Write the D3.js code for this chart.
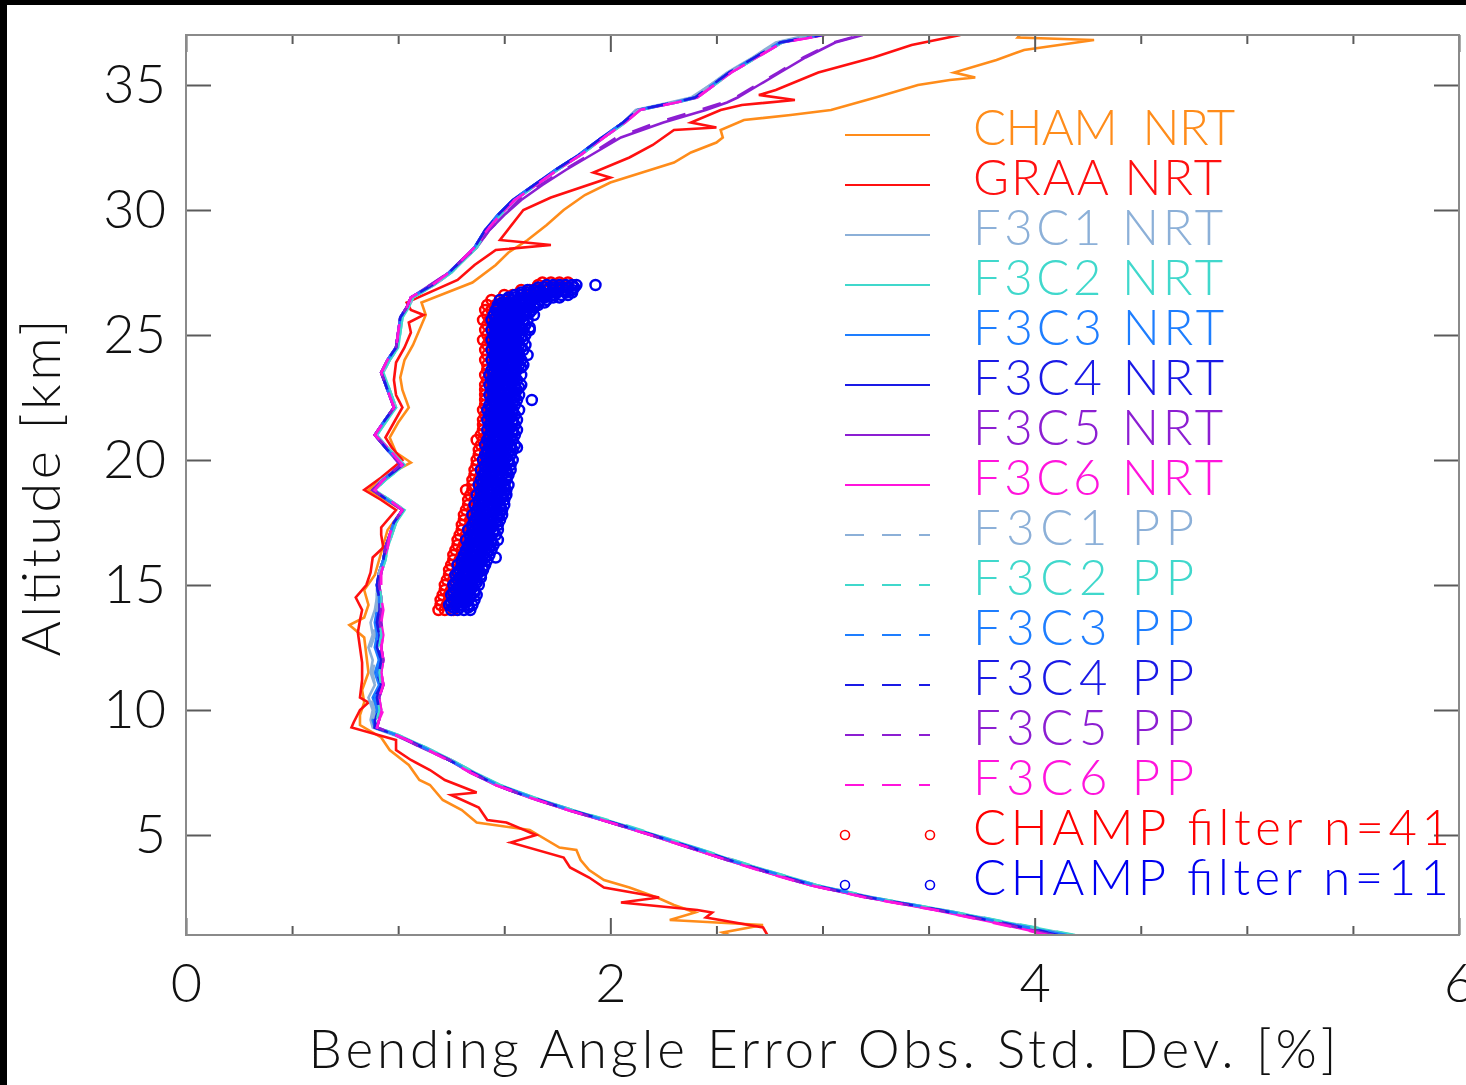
<!DOCTYPE html>
<html>
<head>
<meta charset="utf-8">
<script src="https://cdn.jsdelivr.net/npm/d3@7"></script>
<style>
  html, body { margin: 0; padding: 0; background: #fff; }
  svg { display: block; }
  text { font-family: Lato, "Open Sans", "DejaVu Sans", sans-serif; font-weight: 300; }
</style>
</head>
<body>
<svg id="chart" width="1466" height="1085"></svg>
<script>
// ---------- axis ticks ----------
const xMajorTicks = [0, 2, 4, 6];
const xMinorTicks = [0.5, 1, 1.5, 2.5, 3, 3.5, 4.5, 5, 5.5];
const yTicks = [5, 10, 15, 20, 25, 30, 35];

// ---------- CHAMP / GRACE-A near-real-time profiles (altitude km, std dev %) ----------
const chamAlt = [1.0,1.1,1.4,1.6,1.9,2.2,2.5,2.9,3.2,3.6,4.0,4.4,4.5,5.2,5.5,6.0,6.4,7.0,7.2,7.8,
  8.4,8.9,9.4,9.8,10.3,10.8,11.5,12.2,12.9,13.4,13.7,14.2,14.8,15.4,16.0,16.6,17.2,18.0,18.4,18.8,
  19.4,19.9,20.3,20.9,21.5,22.1,22.8,23.3,24.0,24.6,25.2,25.8,26.3,27.1,27.8,28.3,28.8,29.4,30.0,30.6,
  31.1,31.5,31.9,32.3,32.7,32.9,33.2,33.6,33.8,34.0,34.5,35.0,35.2,35.3,35.5,36.0,36.4,36.8,36.9,37.0];
const chamNrt = [2.56,2.53,2.72,2.28,2.40,2.30,2.22,2.09,1.97,1.90,1.86,1.84,1.76,1.62,1.37,1.30,1.21,1.15,1.10,1.05,
  0.96,0.92,0.82,0.82,0.84,0.83,0.86,0.85,0.84,0.77,0.84,0.86,0.84,0.89,0.91,0.93,0.95,1.02,0.94,0.86,
  0.95,1.06,0.99,0.96,1.00,1.05,1.02,1.01,1.03,1.07,1.10,1.13,1.11,1.35,1.46,1.52,1.61,1.70,1.78,1.88,
  2.00,2.15,2.30,2.38,2.50,2.53,2.52,2.63,2.85,3.04,3.25,3.45,3.60,3.72,3.62,3.82,3.95,4.28,3.92,3.93];

const graaAlt = [1.0,1.3,1.7,1.9,2.0,2.3,2.5,2.6,2.9,3.3,3.7,4.1,4.7,5.0,5.5,5.6,6.1,6.6,6.7,7.2,
  7.6,8.0,8.4,8.8,9.3,9.5,10.0,10.3,10.5,11.2,11.9,12.5,13.1,13.6,14.0,14.5,15.0,15.5,16.1,16.5,
  17.0,17.3,18.0,18.4,18.8,19.3,20.0,20.5,20.9,21.5,22.1,22.6,23.2,23.9,24.5,25.1,25.5,25.8,26.0,26.3,
  27.2,27.8,28.4,28.6,28.8,30.0,30.5,31.3,31.5,32.1,32.6,33.2,33.3,33.5,34.0,34.2,34.4,34.6,34.8,35.5,
  36.1,36.6,37.0];
const graaNrt = [2.74,2.72,2.45,2.48,2.41,2.05,2.23,2.17,1.97,1.90,1.81,1.78,1.53,1.65,1.51,1.42,1.38,1.25,1.37,1.22,
  1.15,1.06,0.99,0.99,0.78,0.79,0.82,0.86,0.82,0.83,0.83,0.82,0.81,0.82,0.83,0.80,0.85,0.87,0.88,0.93,
  0.92,0.92,0.99,0.92,0.84,0.92,1.02,0.97,0.94,0.98,1.02,0.99,0.98,0.99,1.03,1.06,1.05,1.12,1.06,1.04,
  1.28,1.36,1.46,1.72,1.48,1.59,1.72,2.00,1.92,2.09,2.20,2.30,2.50,2.38,2.52,2.62,2.87,2.70,2.78,2.98,
  3.24,3.42,3.65];

// ---------- FORMOSAT-3/COSMIC profiles on a shared altitude grid ----------
const f3cAlt = [1.0,1.5,2.0,2.5,3.0,3.5,4.0,4.5,5.0,5.5,6.0,6.5,7.0,7.5,8.0,8.5,9.0,9.3,
  9.6,10.0,10.5,11.0,11.5,12.0,12.5,13.0,13.5,14.0,14.5,15.0,15.5,16.0,16.5,17.0,17.5,18.0,
  18.4,18.8,19.2,19.8,20.4,21.0,21.5,22.1,22.8,23.5,24.0,24.5,25.1,25.7,26.1,26.5,27.0,
  27.5,28.0,28.5,29.2,29.8,30.4,31.0,31.6,32.2,32.9,33.5,34.0,34.3,34.5,35.0,35.5,36.1,36.7,37.0];

const f3c1Nrt = [4.16,3.86,3.56,3.24,2.96,2.76,2.57,2.38,2.21,2.01,1.82,1.63,1.47,1.35,1.25,1.12,0.98,0.88,
  0.87,0.88,0.86,0.89,0.87,0.88,0.86,0.88,0.87,0.89,0.90,0.90,0.91,0.93,0.95,0.96,0.99,1.02,
  0.96,0.88,0.92,1.02,0.96,0.89,0.93,0.99,0.95,0.92,0.96,0.99,1.00,1.02,1.04,1.07,1.17,
  1.25,1.31,1.37,1.42,1.48,1.55,1.64,1.75,1.86,1.97,2.06,2.12,2.28,2.38,2.47,2.55,2.67,2.78,2.93];
const f3c2Nrt = [4.18,3.87,3.57,3.23,2.97,2.77,2.57,2.40,2.21,2.02,1.82,1.64,1.48,1.36,1.25,1.13,1.00,0.90,
  0.89,0.91,0.90,0.92,0.91,0.92,0.90,0.91,0.91,0.92,0.92,0.91,0.92,0.94,0.95,0.97,0.99,1.03,
  0.96,0.89,0.94,1.03,0.96,0.90,0.94,0.99,0.96,0.93,0.96,1.00,1.01,1.02,1.05,1.07,1.17,
  1.25,1.31,1.37,1.42,1.48,1.55,1.65,1.75,1.86,1.97,2.07,2.14,2.31,2.41,2.49,2.57,2.69,2.81,2.98];
const f3c3Nrt = [4.14,3.85,3.55,3.22,2.96,2.75,2.56,2.39,2.20,2.01,1.81,1.63,1.47,1.35,1.24,1.12,0.99,0.89,
  0.88,0.90,0.88,0.91,0.89,0.91,0.89,0.90,0.89,0.90,0.91,0.90,0.91,0.93,0.94,0.96,0.98,1.02,
  0.95,0.88,0.93,1.02,0.95,0.89,0.93,0.98,0.95,0.92,0.95,0.99,1.00,1.01,1.04,1.06,1.16,
  1.24,1.30,1.36,1.41,1.47,1.54,1.64,1.74,1.85,1.96,2.06,2.13,2.30,2.40,2.48,2.56,2.68,2.80,2.99];
const f3c4Nrt = [4.12,3.84,3.55,3.22,2.95,2.75,2.56,2.38,2.20,2.00,1.81,1.63,1.47,1.35,1.24,1.12,0.99,0.89,
  0.89,0.91,0.89,0.92,0.90,0.92,0.90,0.91,0.90,0.91,0.91,0.90,0.91,0.93,0.94,0.96,0.98,1.02,
  0.95,0.88,0.93,1.02,0.95,0.89,0.93,0.98,0.95,0.92,0.95,0.99,1.00,1.01,1.04,1.06,1.16,
  1.24,1.30,1.36,1.41,1.47,1.54,1.64,1.74,1.85,1.96,2.06,2.13,2.30,2.40,2.48,2.56,2.68,2.80,3.00];
const f3c5Nrt = [4.10,3.83,3.54,3.21,2.94,2.74,2.55,2.37,2.19,2.00,1.80,1.62,1.46,1.34,1.24,1.11,0.99,0.90,
  0.91,0.92,0.91,0.93,0.92,0.93,0.92,0.92,0.91,0.92,0.92,0.91,0.92,0.93,0.94,0.96,0.98,1.02,
  0.95,0.88,0.93,1.01,0.95,0.89,0.93,0.98,0.95,0.92,0.95,0.99,1.00,1.01,1.04,1.06,1.15,
  1.24,1.30,1.37,1.43,1.50,1.58,1.68,1.79,1.91,2.05,2.25,2.45,2.55,2.60,2.70,2.80,2.92,3.06,3.19];
const f3c6Nrt = [4.07,3.81,3.53,3.21,2.94,2.74,2.55,2.37,2.19,2.00,1.80,1.62,1.46,1.35,1.24,1.12,0.99,0.90,
  0.91,0.92,0.91,0.93,0.92,0.93,0.92,0.93,0.92,0.92,0.92,0.91,0.92,0.93,0.95,0.96,0.98,1.02,
  0.96,0.88,0.93,1.02,0.96,0.89,0.93,0.98,0.95,0.92,0.95,0.99,1.00,1.01,1.04,1.06,1.16,
  1.24,1.30,1.36,1.42,1.48,1.55,1.65,1.75,1.86,1.97,2.07,2.14,2.31,2.41,2.49,2.57,2.69,2.81,3.01];

const f3c1Pp = [4.17,3.87,3.57,3.23,2.97,2.76,2.58,2.39,2.21,2.02,1.82,1.63,1.47,1.36,1.25,1.13,0.99,0.88,
  0.88,0.89,0.87,0.89,0.88,0.89,0.87,0.89,0.88,0.90,0.90,0.90,0.91,0.93,0.95,0.97,0.99,1.03,
  0.96,0.89,0.93,1.03,0.96,0.90,0.93,0.99,0.96,0.93,0.96,1.00,1.00,1.02,1.05,1.07,1.17,
  1.25,1.31,1.37,1.42,1.48,1.55,1.65,1.75,1.86,1.97,2.06,2.13,2.29,2.39,2.47,2.56,2.68,2.79,2.95];
const f3c2Pp = [4.19,3.88,3.57,3.24,2.97,2.77,2.58,2.40,2.22,2.03,1.82,1.64,1.48,1.36,1.25,1.13,1.00,0.90,
  0.90,0.91,0.90,0.92,0.91,0.92,0.91,0.92,0.91,0.92,0.92,0.91,0.92,0.94,0.95,0.97,0.99,1.03,
  0.96,0.89,0.94,1.03,0.96,0.90,0.94,0.99,0.96,0.93,0.96,1.00,1.01,1.02,1.05,1.07,1.17,
  1.25,1.31,1.37,1.42,1.48,1.55,1.65,1.75,1.86,1.97,2.07,2.14,2.31,2.41,2.49,2.57,2.69,2.81,2.98];
const f3c3Pp = [4.15,3.85,3.56,3.23,2.96,2.76,2.56,2.39,2.20,2.01,1.81,1.63,1.47,1.35,1.24,1.12,0.99,0.89,
  0.89,0.90,0.89,0.91,0.90,0.91,0.90,0.90,0.90,0.91,0.91,0.90,0.91,0.93,0.94,0.96,0.98,1.02,
  0.95,0.88,0.93,1.02,0.95,0.89,0.93,0.98,0.95,0.92,0.95,0.99,1.00,1.01,1.04,1.06,1.16,
  1.24,1.30,1.36,1.41,1.47,1.54,1.64,1.74,1.85,1.96,2.06,2.13,2.30,2.40,2.48,2.56,2.68,2.80,2.99];
const f3c4Pp = [4.11,3.83,3.55,3.22,2.95,2.75,2.56,2.38,2.20,2.01,1.81,1.62,1.46,1.35,1.24,1.12,0.99,0.89,
  0.90,0.91,0.90,0.92,0.91,0.92,0.91,0.91,0.90,0.91,0.91,0.90,0.91,0.93,0.94,0.96,0.98,1.02,
  0.95,0.88,0.93,1.02,0.95,0.89,0.93,0.98,0.95,0.92,0.95,0.99,1.00,1.01,1.04,1.06,1.16,
  1.24,1.30,1.36,1.41,1.47,1.54,1.64,1.74,1.85,1.96,2.06,2.13,2.30,2.40,2.48,2.56,2.68,2.80,3.00];
const f3c5Pp = [4.09,3.82,3.54,3.21,2.94,2.74,2.55,2.37,2.19,2.00,1.80,1.62,1.46,1.34,1.24,1.11,0.99,0.90,
  0.91,0.92,0.91,0.93,0.92,0.93,0.92,0.93,0.92,0.92,0.92,0.91,0.92,0.93,0.94,0.96,0.98,1.02,
  0.95,0.88,0.93,1.01,0.95,0.89,0.93,0.98,0.95,0.92,0.95,0.99,1.00,1.01,1.04,1.06,1.15,
  1.24,1.30,1.37,1.43,1.50,1.57,1.67,1.78,1.90,2.03,2.22,2.42,2.53,2.59,2.69,2.79,2.91,3.05,3.18];
const f3c6Pp = [4.06,3.80,3.53,3.20,2.94,2.73,2.55,2.37,2.19,2.00,1.80,1.62,1.46,1.34,1.23,1.12,0.99,0.90,
  0.91,0.93,0.91,0.93,0.92,0.93,0.92,0.93,0.92,0.93,0.92,0.92,0.92,0.94,0.95,0.96,0.98,1.02,
  0.96,0.89,0.93,1.02,0.96,0.89,0.93,0.98,0.95,0.92,0.95,0.99,1.00,1.01,1.04,1.06,1.16,
  1.24,1.30,1.36,1.42,1.48,1.55,1.65,1.75,1.86,1.97,2.07,2.14,2.31,2.41,2.49,2.57,2.69,2.81,3.01];

// ---------- CHAMP filtered samples: [altitude, std dev values ...] ----------
const champFilter41 = [
  [14.0,1.19,1.22,1.26],[14.2,1.20,1.23],[14.4,1.20,1.24,1.27],[14.6,1.21,1.24],[14.8,1.22,1.25,1.28],
  [15.0,1.22,1.26],[15.2,1.23,1.26,1.29],[15.4,1.24,1.27],[15.6,1.24,1.28,1.31],[15.8,1.25,1.28],
  [16.0,1.26,1.29,1.32],[16.2,1.26,1.30],[16.4,1.27,1.30,1.33],[16.6,1.28,1.31],[16.8,1.28,1.32,1.35],
  [17.0,1.29,1.32],[17.2,1.30,1.33,1.36],[17.4,1.30,1.34],[17.6,1.31,1.34,1.37],[17.8,1.31,1.35],
  [18.0,1.32,1.35,1.38],[18.2,1.33,1.36],[18.4,1.33,1.36,1.39],[18.6,1.34,1.37],[18.8,1.32,1.35,1.38],
  [19.0,1.35,1.38],[19.2,1.35,1.38,1.41],[19.4,1.36,1.39],[19.6,1.36,1.39,1.42],[19.8,1.37,1.40],
  [20.0,1.37,1.40,1.43],[20.2,1.38,1.41],[20.4,1.38,1.41,1.44],[20.6,1.39,1.42],[20.8,1.37,1.40,1.43],
  [21.0,1.39,1.42],[21.2,1.40,1.43,1.46],[21.4,1.40,1.43],[21.6,1.40,1.43,1.46],[21.8,1.41,1.44],
  [22.0,1.40,1.43,1.46],[22.2,1.41,1.44],[22.4,1.41,1.44,1.47],[22.6,1.41,1.44],[22.8,1.41,1.44,1.47],
  [23.0,1.41,1.44],[23.2,1.42,1.45,1.48],[23.4,1.41,1.44],[23.6,1.42,1.45,1.48],[23.8,1.42,1.45],
  [24.0,1.41,1.44,1.47],[24.2,1.42,1.45],[24.4,1.41,1.44,1.47],[24.6,1.42,1.45],[24.8,1.40,1.43,1.46],
  [25.0,1.42,1.45],[25.2,1.41,1.44,1.47],[25.4,1.42,1.45],[25.6,1.40,1.43,1.46],[25.8,1.42,1.45],
  [26.0,1.41,1.44,1.47],[26.2,1.42,1.46,1.50],[26.4,1.44,1.48,1.53,1.58],
  [26.6,1.50,1.54,1.58,1.62,1.66,1.70],[26.8,1.58,1.62,1.66,1.70,1.74,1.78],
  [27.0,1.66,1.70,1.74,1.78,1.82],[27.1,1.68,1.72,1.76,1.80]
];
const champFilter11 = [
  [14.0,1.25,1.28,1.31,1.34],[14.1,1.26,1.29,1.33],[14.2,1.24,1.27,1.30,1.33,1.35],[14.3,1.25,1.28,1.32],
  [14.4,1.26,1.29,1.32,1.36],[14.5,1.27,1.30,1.34],[14.6,1.25,1.28,1.31,1.34,1.37],[14.7,1.26,1.29,1.33,1.36],
  [14.8,1.27,1.30,1.33,1.36],[14.9,1.28,1.31,1.35],[15.0,1.26,1.29,1.32,1.35,1.38],[15.1,1.27,1.30,1.34,1.37],
  [15.2,1.28,1.31,1.34,1.37],[15.3,1.29,1.32,1.36,1.39],[15.4,1.27,1.30,1.33,1.36,1.39],[15.5,1.28,1.31,1.35,1.38],
  [15.6,1.29,1.32,1.35,1.38,1.40],[15.7,1.30,1.33,1.37,1.40],[15.8,1.28,1.31,1.34,1.37,1.41],[15.9,1.30,1.33,1.36,1.39],
  [16.0,1.30,1.33,1.36,1.39,1.42],[16.1,1.31,1.35,1.38,1.41,1.46],[16.2,1.31,1.34,1.37,1.40,1.43],[16.3,1.32,1.36,1.39,1.42],
  [16.4,1.32,1.35,1.38,1.41,1.44],[16.5,1.33,1.37,1.40,1.43],[16.6,1.33,1.36,1.39,1.42,1.45],[16.7,1.34,1.38,1.41,1.44],
  [16.8,1.32,1.35,1.38,1.41,1.44,1.47],[16.9,1.34,1.37,1.40,1.43],[17.0,1.34,1.37,1.40,1.43,1.46],[17.1,1.35,1.39,1.42,1.45],
  [17.2,1.33,1.36,1.39,1.42,1.45,1.47],[17.3,1.35,1.38,1.41,1.44],[17.4,1.35,1.38,1.41,1.44,1.47],[17.5,1.36,1.40,1.43,1.46],
  [17.6,1.36,1.39,1.42,1.45,1.48],[17.7,1.37,1.40,1.44,1.47],[17.8,1.35,1.38,1.41,1.44,1.47,1.49],[17.9,1.37,1.41,1.45,1.48],
  [18.0,1.37,1.40,1.43,1.46,1.49],[18.1,1.38,1.42,1.45,1.48],[18.2,1.36,1.39,1.42,1.45,1.48,1.50],[18.3,1.38,1.41,1.44,1.47],
  [18.4,1.38,1.41,1.44,1.47,1.50],[18.5,1.39,1.42,1.46,1.49],[18.6,1.37,1.40,1.43,1.46,1.49,1.51],[18.7,1.39,1.43,1.47,1.50],
  [18.8,1.39,1.42,1.45,1.48,1.51],[18.9,1.40,1.44,1.47,1.50],[19.0,1.38,1.41,1.44,1.47,1.50,1.52],[19.1,1.40,1.43,1.46,1.49],
  [19.2,1.39,1.42,1.45,1.48,1.51],[19.3,1.41,1.44,1.47,1.51],[19.4,1.40,1.43,1.46,1.49,1.52],[19.5,1.41,1.45,1.48,1.51],
  [19.6,1.39,1.42,1.45,1.48,1.51,1.53],[19.7,1.41,1.44,1.47,1.50],[19.8,1.41,1.44,1.47,1.50,1.53],[19.9,1.42,1.46,1.49,1.52],
  [20.0,1.40,1.43,1.46,1.49,1.52,1.54],[20.1,1.42,1.45,1.48,1.51],[20.2,1.41,1.44,1.47,1.50,1.53],[20.3,1.42,1.46,1.49,1.52],
  [20.4,1.42,1.45,1.48,1.51,1.54],[20.5,1.43,1.47,1.50,1.53,1.56],[20.6,1.41,1.44,1.47,1.50,1.53,1.55],[20.7,1.43,1.46,1.49,1.52],
  [20.8,1.42,1.45,1.48,1.51,1.54],[20.9,1.43,1.47,1.50,1.53],[21.0,1.43,1.46,1.49,1.52,1.55],[21.1,1.44,1.48,1.51,1.54],
  [21.2,1.42,1.45,1.48,1.51,1.54,1.56],[21.3,1.44,1.47,1.50,1.53],[21.4,1.43,1.46,1.49,1.52,1.55],[21.5,1.44,1.48,1.51,1.54],
  [21.6,1.42,1.45,1.48,1.51,1.54,1.56],[21.7,1.44,1.47,1.50,1.53],[21.8,1.43,1.46,1.49,1.52,1.55],[21.9,1.44,1.48,1.51,1.54],
  [22.0,1.42,1.45,1.48,1.51,1.54,1.57],[22.1,1.44,1.47,1.50,1.53],[22.2,1.43,1.46,1.49,1.52,1.55],[22.3,1.45,1.48,1.51,1.54],
  [22.4,1.44,1.47,1.50,1.53,1.56,1.63],[22.5,1.45,1.48,1.51,1.55],[22.6,1.43,1.46,1.49,1.52,1.55,1.57],[22.7,1.45,1.48,1.52,1.55],
  [22.8,1.44,1.47,1.50,1.53,1.56],[22.9,1.45,1.49,1.52,1.55,1.57],[23.0,1.43,1.46,1.49,1.52,1.55,1.58],[23.1,1.45,1.48,1.51,1.54],
  [23.2,1.44,1.47,1.50,1.53,1.56],[23.3,1.45,1.49,1.52,1.55],[23.4,1.43,1.46,1.49,1.52,1.55,1.58],[23.5,1.45,1.48,1.51,1.55],
  [23.6,1.44,1.47,1.50,1.53,1.56],[23.7,1.46,1.49,1.52,1.55,1.58],[23.8,1.45,1.48,1.51,1.54,1.57,1.59],[23.9,1.46,1.49,1.53,1.56],
  [24.0,1.44,1.47,1.50,1.53,1.56,1.58],[24.1,1.46,1.49,1.52,1.55],[24.2,1.45,1.48,1.51,1.54,1.57,1.61],[24.3,1.46,1.50,1.53,1.56],
  [24.4,1.44,1.47,1.50,1.53,1.56,1.59],[24.5,1.46,1.49,1.52,1.55,1.58],[24.6,1.45,1.48,1.51,1.54,1.57,1.60],[24.7,1.46,1.50,1.53,1.56],
  [24.8,1.44,1.47,1.50,1.53,1.56,1.59],[24.9,1.46,1.49,1.52,1.55,1.58],[25.0,1.45,1.48,1.51,1.54,1.57,1.60],[25.1,1.46,1.50,1.53,1.56],
  [25.2,1.44,1.47,1.50,1.53,1.56,1.59,1.62],[25.3,1.46,1.49,1.52,1.55,1.58,1.62],[25.4,1.45,1.48,1.51,1.54,1.57,1.60],
  [25.5,1.46,1.50,1.53,1.56,1.59],[25.6,1.44,1.47,1.50,1.53,1.56,1.59,1.61],[25.7,1.46,1.49,1.52,1.55,1.58],
  [25.8,1.45,1.48,1.51,1.54,1.57,1.60,1.64],[25.9,1.47,1.50,1.53,1.56,1.59,1.62],[26.0,1.46,1.49,1.52,1.55,1.58,1.61,1.63],
  [26.1,1.47,1.51,1.54,1.57,1.60,1.64],[26.2,1.47,1.50,1.53,1.56,1.59,1.62,1.66],[26.3,1.49,1.52,1.55,1.58,1.62,1.66,1.69],
  [26.4,1.48,1.51,1.54,1.57,1.60,1.63,1.67,1.70],[26.5,1.52,1.55,1.59,1.62,1.65,1.69,1.73,1.76],
  [26.6,1.55,1.58,1.61,1.64,1.67,1.70,1.73,1.77,1.80],[26.7,1.58,1.61,1.65,1.68,1.72,1.75,1.79,1.82],
  [26.8,1.61,1.64,1.67,1.70,1.73,1.76,1.79,1.82],[26.9,1.66,1.69,1.73,1.76,1.80,1.83],
  [27.0,1.70,1.73,1.76,1.79,1.82,1.84,1.93]
];

// ---------- series catalogue (legend order = drawing order) ----------
const seriesNames = ["CHAM  NRT","GRAA NRT","F3C1 NRT","F3C2 NRT","F3C3 NRT","F3C4 NRT","F3C5 NRT","F3C6 NRT",
  "F3C1 PP","F3C2 PP","F3C3 PP","F3C4 PP","F3C5 PP","F3C6 PP"];
const seriesAlts = [chamAlt, graaAlt, f3cAlt, f3cAlt, f3cAlt, f3cAlt, f3cAlt, f3cAlt,
  f3cAlt, f3cAlt, f3cAlt, f3cAlt, f3cAlt, f3cAlt];
const seriesValues = [chamNrt, graaNrt, f3c1Nrt, f3c2Nrt, f3c3Nrt, f3c4Nrt, f3c5Nrt, f3c6Nrt,
  f3c1Pp, f3c2Pp, f3c3Pp, f3c4Pp, f3c5Pp, f3c6Pp];
const scatterNames = ["CHAMP filter n=41", "CHAMP filter n=11"];

// ---------- styling ----------
const satColors = ["#ff8c1a", "#ff1010", "#8cb0d8", "#40d8cc", "#1e7eff", "#1a1ae6", "#8c1ed2", "#ff14dc"];
const seriesColors = [satColors[0], satColors[1], satColors[2], satColors[3], satColors[4], satColors[5], satColors[6], satColors[7],
  satColors[2], satColors[3], satColors[4], satColors[5], satColors[6], satColors[7]];
const seriesDashed = [false,false,false,false,false,false,false,false,true,true,true,true,true,true];
const scatterColors = ["#ff0000", "#0000f0"];
const legendWidths = [262, 249, 250, 250, 251, 251, 250, 250, 221, 221, 221, 221, 221, 221];
const scatterLegendWidths = [477, 476];

const W = 1466, H = 1085;
const plot = { left: 186, right: 1459, top: 35, bottom: 935 };

const svg = d3.select("#chart");
svg.append("rect").attr("width", W).attr("height", H).attr("fill", "#fff");
// dark frame on the left and top edges
svg.append("rect").attr("x", 0).attr("y", 0).attr("width", 7).attr("height", H).attr("fill", "#000");
svg.append("rect").attr("x", 0).attr("y", 0).attr("width", W).attr("height", 5).attr("fill", "#000");

const x = d3.scaleLinear().domain([0, 6]).range([plot.left, plot.right]);
const y = d3.scaleLinear().domain([1, 37]).range([plot.bottom, plot.top]);

svg.append("clipPath").attr("id", "plotClip").append("rect")
  .attr("x", plot.left).attr("y", plot.top)
  .attr("width", plot.right - plot.left).attr("height", plot.bottom - plot.top);

const line = d3.line().x(d => x(d[1])).y(d => y(d[0]));
const curves = svg.append("g").attr("clip-path", "url(#plotClip)");

seriesNames.forEach((name, i) => {
  const pts = seriesAlts[i].map((a, k) => [a, seriesValues[i][k]]);
  curves.append("path")
    .datum(pts)
    .attr("d", line)
    .attr("fill", "none")
    .attr("stroke", seriesColors[i])
    .attr("stroke-width", 2.6)
    .attr("stroke-linejoin", "miter")
    .attr("stroke-dasharray", seriesDashed[i] ? "19 18" : null);
});

// filtered CHAMP samples
const toPoints = rows => rows.flatMap(r => r.slice(1).map(v => [r[0], v]));
[champFilter41, champFilter11].forEach((rows, i) => {
  curves.append("g").selectAll("circle")
    .data(toPoints(rows))
    .join("circle")
    .attr("cx", d => x(d[1]))
    .attr("cy", d => y(d[0]))
    .attr("r", 5)
    .attr("fill", "none")
    .attr("stroke", scatterColors[i])
    .attr("stroke-width", 2.5);
});

// ---------- axes ----------
const tickColor = "#5a5a5a";
function styleAxis(g, size) {
  g.select(".domain").remove();
  g.attr("color", tickColor).attr("font-size", size).attr("font-family", null);
  g.selectAll(".tick line").attr("stroke-width", 2);
  g.selectAll(".tick text").attr("fill", "#111");
}
svg.append("g").attr("transform", `translate(0,${plot.bottom})`)
  .call(d3.axisBottom(x).tickValues(xMinorTicks).tickSize(-9).tickFormat(""))
  .call(g => styleAxis(g, 54));
svg.append("g").attr("transform", `translate(0,${plot.bottom})`)
  .call(d3.axisBottom(x).tickValues(xMajorTicks).tickSize(-17).tickPadding(29).tickFormat(d3.format("d")))
  .call(g => styleAxis(g, 54));
svg.append("g").attr("transform", `translate(0,${plot.top})`)
  .call(d3.axisTop(x).tickValues(xMinorTicks).tickSize(-9).tickFormat(""))
  .call(g => styleAxis(g, 54));
svg.append("g").attr("transform", `translate(0,${plot.top})`)
  .call(d3.axisTop(x).tickValues(xMajorTicks).tickSize(-17).tickFormat(""))
  .call(g => styleAxis(g, 54));
svg.append("g").attr("transform", `translate(${plot.left},0)`)
  .call(d3.axisLeft(y).tickValues(yTicks).tickSize(-25).tickPadding(20).tickFormat(d3.format("d")))
  .call(g => styleAxis(g, 54));
svg.append("g").attr("transform", `translate(${plot.right},0)`)
  .call(d3.axisRight(y).tickValues(yTicks).tickSize(-25).tickFormat(""))
  .call(g => styleAxis(g, 54));

// plot frame
svg.append("rect")
  .attr("x", plot.left).attr("y", plot.top)
  .attr("width", plot.right - plot.left).attr("height", plot.bottom - plot.top)
  .attr("fill", "none").attr("stroke", "#8a8a8a").attr("stroke-width", 2);

// axis titles
svg.append("text")
  .attr("x", (plot.left + plot.right) / 2).attr("y", 1068)
  .attr("text-anchor", "middle").attr("font-size", 53).attr("fill", "#111")
  .attr("textLength", 1028).attr("lengthAdjust", "spacing")
  .text("Bending Angle Error Obs. Std. Dev. [%]");
svg.append("text")
  .attr("transform", `translate(60,${(plot.top + plot.bottom) / 2 + 3}) rotate(-90)`)
  .attr("text-anchor", "middle").attr("font-size", 54).attr("fill", "#111")
  .attr("textLength", 337).attr("lengthAdjust", "spacing")
  .text("Altitude [km]");

// ---------- legend ----------
const legend = svg.append("g");
const lgX0 = 845, lgX1 = 930, lgText = 973, lgY0 = 135, lgStep = 50;
seriesNames.forEach((name, i) => {
  const yy = lgY0 + i * lgStep;
  legend.append("line")
    .attr("x1", lgX0).attr("x2", lgX1).attr("y1", yy).attr("y2", yy)
    .attr("stroke", seriesColors[i]).attr("stroke-width", 2.2)
    .attr("stroke-dasharray", seriesDashed[i] ? "19 18" : null);
  legend.append("text")
    .attr("x", lgText).attr("y", yy + 10)
    .attr("font-size", 49).attr("fill", seriesColors[i])
    .attr("textLength", legendWidths[i]).attr("lengthAdjust", "spacing")
    .style("white-space", "pre")
    .text(name);
});
scatterNames.forEach((name, i) => {
  const yy = lgY0 + (seriesNames.length + i) * lgStep;
  [lgX0, lgX1].forEach(cx => legend.append("circle")
    .attr("cx", cx).attr("cy", yy).attr("r", 4.5)
    .attr("fill", "none").attr("stroke", scatterColors[i]).attr("stroke-width", 1.6));
  legend.append("text")
    .attr("x", lgText).attr("y", yy + 10)
    .attr("font-size", 49).attr("fill", scatterColors[i])
    .attr("textLength", scatterLegendWidths[i]).attr("lengthAdjust", "spacing")
    .text(name);
});
</script>
</body>
</html>
